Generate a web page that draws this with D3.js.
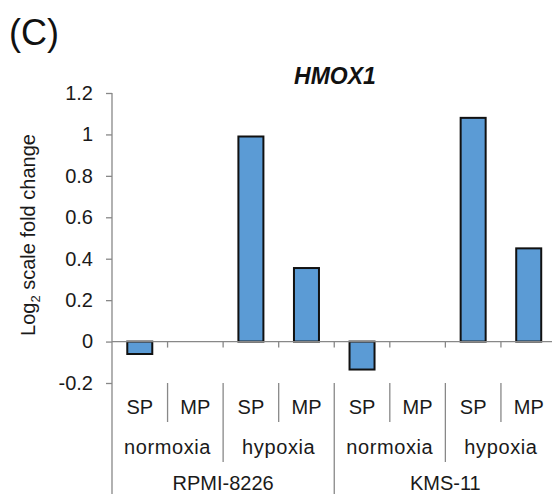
<!DOCTYPE html>
<html>
<head>
<meta charset="utf-8">
<script src="https://cdn.jsdelivr.net/npm/d3@7"></script>
<style>
  body { margin: 0; background: #fff; }
  svg { font-family: "Liberation Sans", Arial, sans-serif; }
</style>
</head>
<body>
<svg id="chart" width="552" height="494"></svg>
<script>
const cellLines = ["RPMI-8226", "KMS-11"];
const conditions = ["normoxia", "hypoxia"];
const fractions = ["SP", "MP"];
const values = [-0.06, 0, 0.99, 0.355, -0.135, 0, 1.08, 0.45];
const yTicks = [-0.2, 0, 0.2, 0.4, 0.6, 0.8, 1, 1.2];

const width = 552;
const height = 494;
const plotTop = 93, plotBottom = 383, plotLeft = 112, plotRight = 556.5;

const svg = d3.select("#chart");

// flat list of categories, innermost first
const cats = [];
cellLines.forEach(function (c) {
    conditions.forEach(function (k) {
        fractions.forEach(function (f) {
            cats.push({ cell: c, cond: k, frac: f, key: c + "|" + k + "|" + f });
        });
    });
});
cats.forEach(function (d, i) { d.value = values[i]; });

const x = d3.scaleBand()
    .domain(cats.map(function (d) { return d.key; }))
    .range([plotLeft, plotRight]);
const bw = x.bandwidth();

const y = d3.scaleLinear()
    .domain([-0.2, 1.2])
    .range([plotBottom, plotTop]);

// panel letter
svg.append("text")
    .attr("x", 9).attr("y", 45)
    .attr("font-size", 36).attr("fill", "#111")
    .text("(C)");

// title
svg.append("text")
    .attr("x", 335).attr("y", 84)
    .attr("text-anchor", "middle")
    .attr("font-size", 23).attr("font-weight", "bold").attr("font-style", "italic")
    .attr("fill", "#111")
    .text("HMOX1");

// y axis
const yAxis = svg.append("g")
    .attr("transform", `translate(${plotLeft},0)`)
    .call(d3.axisLeft(y).tickValues(yTicks).tickSize(6).tickPadding(13)
        .tickFormat(function (d) { return String(+d.toFixed(1)); }));
yAxis.select(".domain").remove();
yAxis.selectAll("line").attr("stroke", "#888").attr("stroke-width", 1.3);
yAxis.selectAll("text").attr("font-size", 20).attr("fill", "#1a1a1a")
    .attr("font-family", "Liberation Sans, Arial, sans-serif");

svg.append("line")
    .attr("x1", plotLeft).attr("x2", plotLeft)
    .attr("y1", y(1.2)).attr("y2", height)
    .attr("stroke", "#888").attr("stroke-width", 1.3);

// y title
const yt = svg.append("text")
    .attr("transform", `translate(35,${(y(1.2) + y(-0.2)) / 2 - 3}) rotate(-90)`)
    .attr("text-anchor", "middle")
    .attr("font-size", 20).attr("fill", "#1a1a1a");
yt.append("tspan").text("Log");
yt.append("tspan").attr("font-size", 13).attr("dy", 5).text("2");
yt.append("tspan").attr("dy", -5).text(" scale fold change");

// bars
svg.append("g")
    .selectAll("rect")
    .data(cats.filter(function (d) { return d.value !== 0; }))
    .join("rect")
    .attr("x", function (d) { return x(d.key) + bw * 0.275; })
    .attr("width", bw * 0.45)
    .attr("y", function (d) { return y(Math.max(0, d.value)); })
    .attr("height", function (d) { return Math.abs(y(d.value) - y(0)); })
    .attr("fill", "#5B9BD5")
    .attr("stroke", "#111")
    .attr("stroke-width", 2);

// zero line with ticks between categories
svg.append("line")
    .attr("x1", plotLeft).attr("x2", width)
    .attr("y1", y(0)).attr("y2", y(0))
    .attr("stroke", "#888").attr("stroke-width", 1.3);
svg.append("g")
    .selectAll("line")
    .data(cats.slice(1))
    .join("line")
    .attr("x1", function (d) { return x(d.key); })
    .attr("x2", function (d) { return x(d.key); })
    .attr("y1", y(0)).attr("y2", y(0) + 6)
    .attr("stroke", "#888").attr("stroke-width", 1.3);

// multi-level category labels
const lab = svg.append("g").attr("fill", "#1a1a1a").attr("text-anchor", "middle");
lab.selectAll("text.frac")
    .data(cats)
    .join("text")
    .attr("class", "frac")
    .attr("x", function (d) { return x(d.key) + bw / 2; })
    .attr("y", 414)
    .attr("font-size", 20)
    .text(function (d) { return d.frac; });

const condGroups = d3.groups(cats, function (d) { return d.cell + "|" + d.cond; });
lab.selectAll("text.cond")
    .data(condGroups)
    .join("text")
    .attr("class", "cond")
    .attr("x", function (g) { return x(g[1][0].key) + bw; })
    .attr("y", 454)
    .attr("font-size", 20)
    .attr("letter-spacing", 0.6)
    .text(function (g) { return g[1][0].cond; });

const cellGroups = d3.groups(cats, function (d) { return d.cell; });
lab.selectAll("text.cell")
    .data(cellGroups)
    .join("text")
    .attr("class", "cell")
    .attr("x", function (g) { return x(g[1][0].key) + bw * 2; })
    .attr("y", 490)
    .attr("font-size", 20)
    .text(function (g) { return g[0]; });

// separators
const seps = svg.append("g").attr("stroke", "#888").attr("stroke-width", 1.3);
cats.forEach(function (d, i) {
    if (i === 0) return;
    let y2 = 422;
    if (i % 4 === 0) y2 = height;
    else if (i % 2 === 0) y2 = 462;
    seps.append("line")
        .attr("x1", x(d.key)).attr("x2", x(d.key))
        .attr("y1", plotBottom).attr("y2", y2);
});
</script>
</body>
</html>
